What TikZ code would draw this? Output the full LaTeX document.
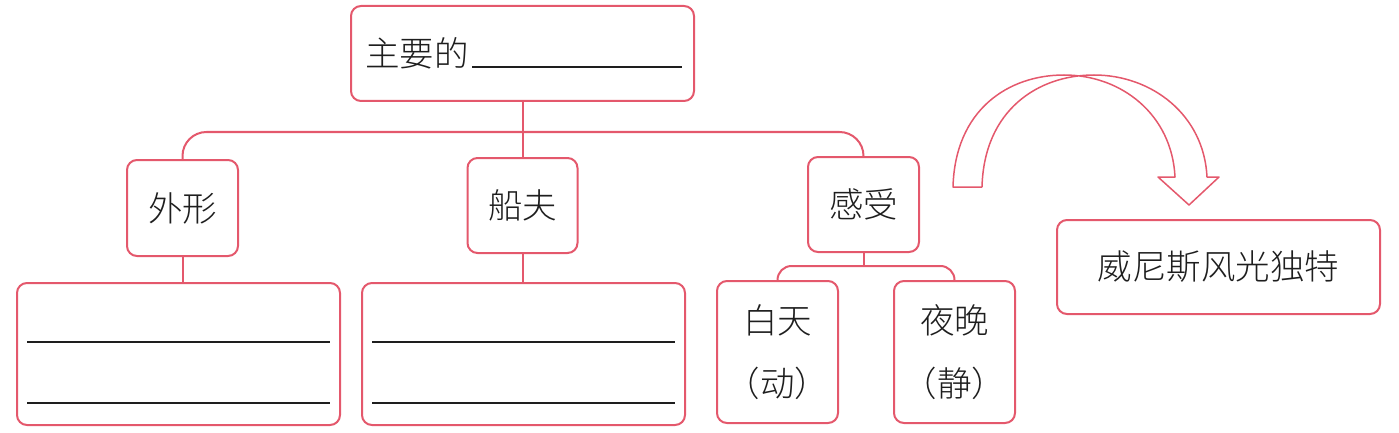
\documentclass[tikz,border=0pt]{standalone}
\usepackage{fontspec}
\newfontfamily\cjk{Noto Sans CJK SC Light}
\definecolor{pk}{RGB}{228,88,108}
\definecolor{ink}{RGB}{30,30,30}
\begin{document}
\begin{tikzpicture}[x=1pt,y=-1pt,
  box/.style={draw=pk,line width=2pt,rounded corners=10pt,inner sep=0pt,fill=white},
  lbl/.style={font=\cjk\fontsize{34.5}{40}\selectfont,text=ink,inner sep=0pt},
  conn/.style={draw=pk,line width=2pt},
  rule/.style={draw=ink,line width=1.4pt}]
\useasboundingbox (0,0) rectangle (1399,433);
% boxes
\node[box,minimum width=343pt,minimum height=95pt] (top) at (522.5,53.5) {};
\node[box,lbl,minimum width=111pt,minimum height=96pt] (waixing) at (182.5,208) {外形};
\node[box,lbl,minimum width=110pt,minimum height=95pt] (chuanfu) at (522.5,205.5) {船夫};
\node[box,lbl,minimum width=111pt,minimum height=95pt] (ganshou) at (863.5,204.5) {感受};
\node[box,minimum width=323pt,minimum height=142pt] (box1) at (178.5,354) {};
\node[box,minimum width=323pt,minimum height=142pt] (box2) at (523.5,354) {};
\node[box,minimum width=121pt,minimum height=142pt] (baitian) at (777.5,352) {};
\node[box,minimum width=121pt,minimum height=142pt] (yewan) at (954.5,352) {};
\node[box,lbl,minimum width=323pt,minimum height=94pt] (weinisi) at (1218.5,267) {威尼斯风光独特};
% texts
\node[lbl,anchor=west] (zyd) at (365,53.5) {主要的};
\coordinate (u1) at (472,67);
\coordinate (u2) at (682,67);
\draw[rule] (u1) -- (u2);
\node[lbl] (bt1) at (777.5,320) {白天};
\node[lbl] (bt2) at (777.5,383) {（动）};
\node[lbl] (yw1) at (954.5,320) {夜晚};
\node[lbl] (yw2) at (954.5,383) {（静）};
\draw[rule] (27,342) -- (330,342);
\draw[rule] (27,403) -- (330,403);
\draw[rule] (372,342) -- (675,342);
\draw[rule] (372,403) -- (675,403);
% connectors
\coordinate (j) at (522.5,132);
\draw[conn] (top.south) -- (j);
\draw[conn,rounded corners=24pt] (waixing.north) |- (j) -| (ganshou.north);
\draw[conn] (j) -- (chuanfu.north);
\draw[conn] (waixing.south) -- (waixing.south |- box1.north);
\draw[conn] (chuanfu.south) -- (chuanfu.south |- box2.north);
\coordinate (k) at (863.5,266);
\draw[conn] (ganshou.south) -- (k);
\draw[conn,rounded corners=14pt] (baitian.north) |- (k) -| (yewan.north);
% curved arrow
\draw[pk,line width=1.5pt,line join=round]
  (982,187) -- (953,187)
  .. controls (955,110) and (1008,75) .. (1064,75)
  .. controls (1122,75) and (1172,115) .. (1175,177)
  -- (1158,177) -- (1189,205) -- (1219,177) -- (1207,177)
  .. controls (1204,115) and (1152,75) .. (1094,75)
  .. controls (1038,75) and (984,110) .. (982,187);
\end{tikzpicture}
\end{document}
